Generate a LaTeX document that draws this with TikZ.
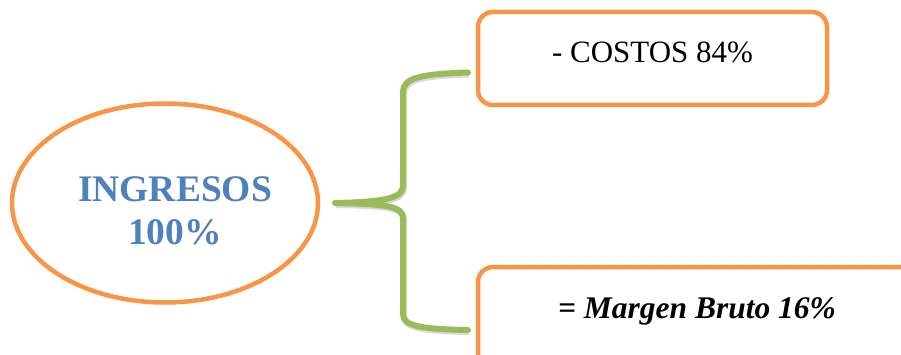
\documentclass[tikz,border=0pt]{standalone}
\usepackage{fontspec}
\setmainfont{Liberation Serif}
\usetikzlibrary{shapes.geometric}
\definecolor{accentorange}{HTML}{F79646}
\definecolor{accentblue}{HTML}{4F81BD}
\definecolor{accentgreen}{HTML}{9BBB59}
\tikzset{
  oval/.style={ellipse, draw=accentorange, line width=4.5pt, inner sep=0pt, outer sep=0pt,
    minimum width=306pt, minimum height=199pt},
  ovaltext/.style={align=center, text=accentblue, inner sep=0pt,
    font=\fontsize{37.5}{43}\selectfont\bfseries},
  panel/.style={draw=accentorange, line width=4.5pt, rounded corners=15pt, anchor=north west,
    inner xsep=0pt, inner ysep=11pt, outer sep=0pt, text height=40pt},
  brace/.style={draw=accentgreen, line width=6pt, line cap=round, line join=round,
    preaction={draw=black!15, line width=6pt, transform canvas={xshift=1pt, yshift=-2pt}}}
}
\begin{document}
\begin{tikzpicture}[x=1pt, y=-1pt]
  \useasboundingbox (0,0) rectangle (901,355);
  \clip (0,0) rectangle (901,355);
  \draw
    (165,203) node[oval] (ingresos) {}
    (175,211) node[ovaltext] (ingresostext) {INGRESOS\\100\%}
    (478,12) node[panel, minimum width=349pt, text depth=31pt,
      font=\fontsize{31}{36}\selectfont] (costos) {- COSTOS 84\%}
    (478,267) node[panel, minimum width=438pt, text depth=60pt,
      font=\fontsize{31.5}{36}\selectfont\bfseries\itshape] (margen) {= Margen Bruto 16\%};
  \coordinate (tip) at ([xshift=17pt]ingresos.east);
  \coordinate (costosend) at ([xshift=-10pt, yshift=-14pt]costos.west);
  \coordinate (margenend) at ([xshift=-10pt, yshift=-63pt]margen.north west);
  \path[brace] (costosend) .. controls (420,74) and (403,78) .. (403,92) -- (403,186)
    .. controls (403,198) and (385,202) .. (tip)
    .. controls (385,204) and (403,206) .. (403,218) -- (403,314)
    .. controls (403,326) and (420,329) .. (margenend);
\end{tikzpicture}
\end{document}
